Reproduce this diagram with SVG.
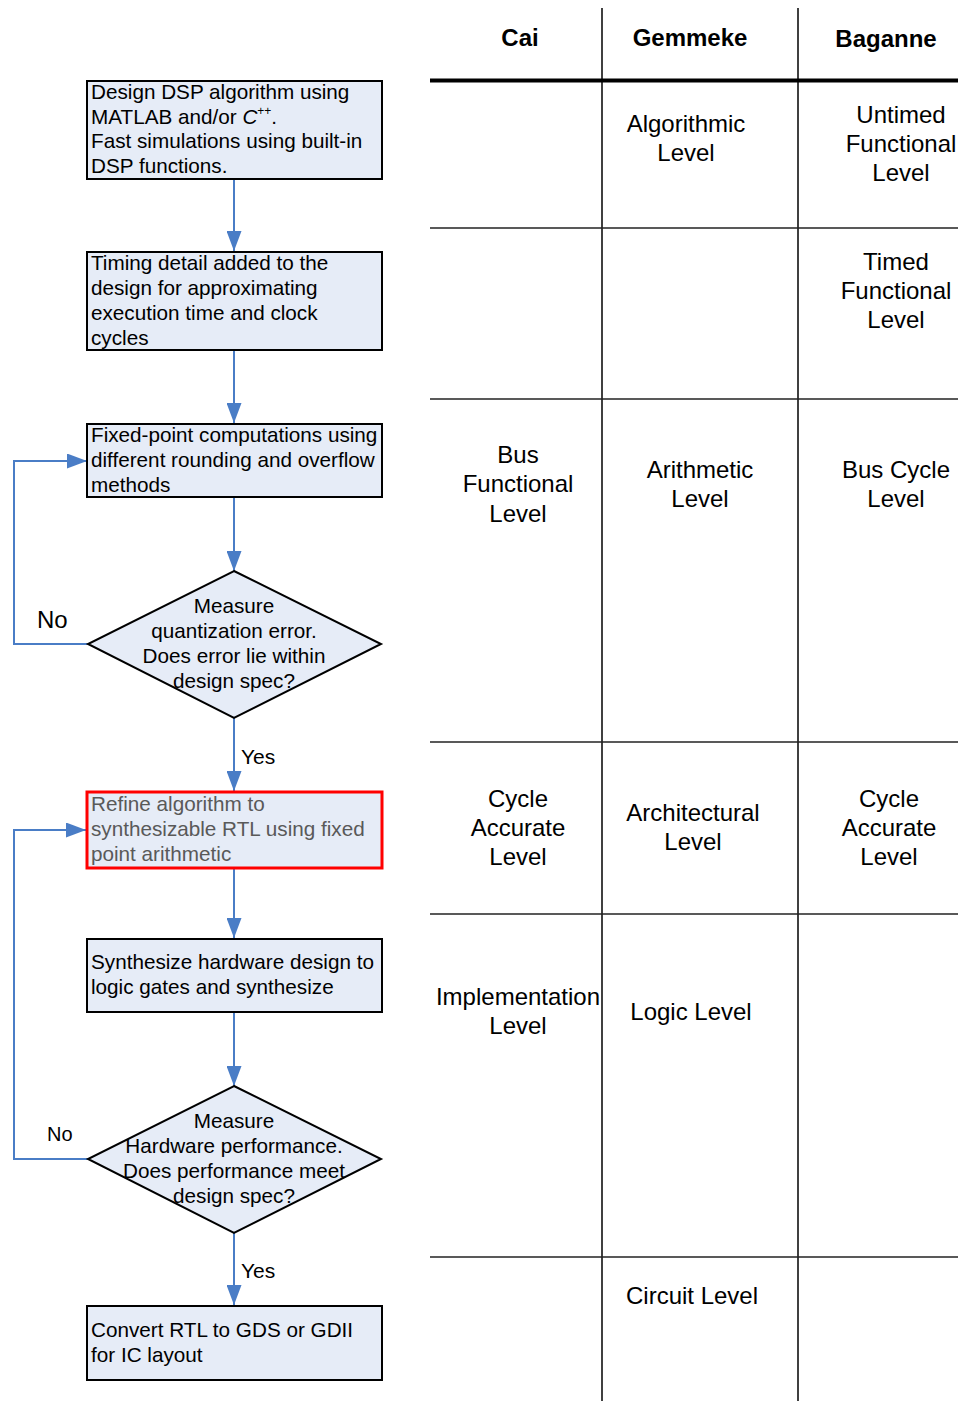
<svg xmlns="http://www.w3.org/2000/svg" width="958" height="1401" viewBox="0 0 958 1401">
  <defs>
    <marker id="arrow" markerUnits="userSpaceOnUse" markerWidth="20" markerHeight="15" refX="20" refY="7.5" viewBox="0 0 20 15" orient="auto">
      <path d="M0,0 L20,7.5 L0,15 Z" fill="#4A7DC6"/>
    </marker>
    <style>
      .box { fill: #E6ECF7; stroke: #000; stroke-width: 2; }
      .hl { fill: #E6ECF7; stroke: #FF0000; stroke-width: 3; }
      .flow { fill: none; stroke: #4A7DC6; stroke-width: 2; marker-end: url(#arrow); }
      .t { font-family: "Liberation Sans", Arial, sans-serif; font-size: 20.7px; fill: #000; }
      .tc { font-family: "Liberation Sans", Arial, sans-serif; font-size: 20.7px; fill: #000; text-anchor: middle; }
      .grey { fill: #595959; }
      .lbl { font-family: "Liberation Sans", Arial, sans-serif; font-size: 21px; fill: #000; }
      .big { font-size: 24px; }
      .small { font-size: 20px; }
      .hd { font-family: "Liberation Sans", Arial, sans-serif; font-size: 24px; font-weight: bold; fill: #000; text-anchor: middle; }
      .cell { font-family: "Liberation Sans", Arial, sans-serif; font-size: 24px; fill: #000; text-anchor: middle; }
      .grid { stroke: #000; stroke-width: 1.5; }
      .row { stroke: #222; stroke-width: 1.5; }
    </style>
  </defs>

  <!-- comparison table -->
  <g id="table">
    <line class="grid" x1="602" y1="8" x2="602" y2="1401"/>
    <line class="grid" x1="798" y1="8" x2="798" y2="1401"/>
    <line x1="430" y1="80.5" x2="958" y2="80.5" stroke="#000" stroke-width="4"/>
    <line class="row" x1="430" y1="228" x2="958" y2="228"/>
    <line class="row" x1="430" y1="399" x2="958" y2="399"/>
    <line class="row" x1="430" y1="742" x2="958" y2="742"/>
    <line class="row" x1="430" y1="914" x2="958" y2="914"/>
    <line class="row" x1="430" y1="1257" x2="958" y2="1257"/>

    <text class="hd" x="520" y="46">Cai</text>
    <text class="hd" x="690" y="46">Gemmeke</text>
    <text class="hd" x="886" y="47">Baganne</text>

    <text class="cell" x="686" y="132">Algorithmic</text>
    <text class="cell" x="686" y="161">Level</text>
    <text class="cell" x="901" y="123">Untimed</text>
    <text class="cell" x="901" y="152">Functional</text>
    <text class="cell" x="901" y="181">Level</text>

    <text class="cell" x="896" y="270">Timed</text>
    <text class="cell" x="896" y="299">Functional</text>
    <text class="cell" x="896" y="328">Level</text>

    <text class="cell" x="518" y="463">Bus</text>
    <text class="cell" x="518" y="492">Functional</text>
    <text class="cell" x="518" y="522">Level</text>
    <text class="cell" x="700" y="478">Arithmetic</text>
    <text class="cell" x="700" y="507">Level</text>
    <text class="cell" x="896" y="478">Bus Cycle</text>
    <text class="cell" x="896" y="507">Level</text>

    <text class="cell" x="518" y="807">Cycle</text>
    <text class="cell" x="518" y="836">Accurate</text>
    <text class="cell" x="518" y="865">Level</text>
    <text class="cell" x="693" y="821">Architectural</text>
    <text class="cell" x="693" y="850">Level</text>
    <text class="cell" x="889" y="807">Cycle</text>
    <text class="cell" x="889" y="836">Accurate</text>
    <text class="cell" x="889" y="865">Level</text>

    <text class="cell" x="518" y="1005">Implementation</text>
    <text class="cell" x="518" y="1034">Level</text>
    <text class="cell" x="691" y="1020">Logic Level</text>

    <text class="cell" x="692" y="1304">Circuit Level</text>
  </g>

  <!-- connectors -->
  <g id="connectors">
    <line class="flow" x1="234" y1="180" x2="234" y2="251"/>
    <line class="flow" x1="234" y1="351" x2="234" y2="423"/>
    <line class="flow" x1="234" y1="498" x2="234" y2="571"/>
    <line class="flow" x1="234" y1="718" x2="234" y2="791"/>
    <line class="flow" x1="234" y1="869" x2="234" y2="938"/>
    <line class="flow" x1="234" y1="1013" x2="234" y2="1086"/>
    <line class="flow" x1="234" y1="1233" x2="234" y2="1305"/>
    <polyline class="flow" points="88,644 14,644 14,461 87,461"/>
    <polyline class="flow" points="88,1159 14,1159 14,830 86,830"/>
    <text class="lbl" x="241" y="764">Yes</text>
    <text class="lbl" x="241" y="1278">Yes</text>
    <text class="lbl big" x="37" y="628">No</text>
    <text class="lbl small" x="47" y="1141">No</text>
  </g>

  <g id="design">
    <rect class="box" x="87" y="81" width="295" height="98"/>
    <text class="t" x="91" y="99">Design DSP algorithm using</text>
    <text class="t" x="91" y="124">MATLAB and/or <tspan font-style="italic">C</tspan><tspan style="font-size:12px" dy="-9">++</tspan><tspan dy="9">.</tspan></text>
    <text class="t" x="91" y="148">Fast simulations using built-in</text>
    <text class="t" x="91" y="173">DSP functions.</text>
  </g>

  <g id="timing">
    <rect class="box" x="87" y="252" width="295" height="98"/>
    <text class="t" x="91" y="270">Timing detail added to the</text>
    <text class="t" x="91" y="295">design for approximating</text>
    <text class="t" x="91" y="320">execution time and clock</text>
    <text class="t" x="91" y="345">cycles</text>
  </g>

  <g id="fixedpoint">
    <rect class="box" x="87" y="424" width="295" height="73"/>
    <text class="t" x="91" y="442">Fixed-point computations using</text>
    <text class="t" x="91" y="467">different rounding and overflow</text>
    <text class="t" x="91" y="492">methods</text>
  </g>

  <g id="quantcheck">
    <polygon class="box" points="234,571 381,644 234,718 88,644"/>
    <text class="tc" x="234" y="613">Measure</text>
    <text class="tc" x="234" y="638">quantization error.</text>
    <text class="tc" x="234" y="663">Does error lie within</text>
    <text class="tc" x="234" y="688">design spec?</text>
  </g>

  <g id="refine">
    <rect class="hl" x="87" y="792" width="295" height="76"/>
    <text class="t grey" x="91" y="811">Refine algorithm to</text>
    <text class="t grey" x="91" y="836">synthesizable RTL using fixed</text>
    <text class="t grey" x="91" y="861">point arithmetic</text>
  </g>

  <g id="synthesize">
    <rect class="box" x="87" y="939" width="295" height="73"/>
    <text class="t" x="91" y="969">Synthesize hardware design to</text>
    <text class="t" x="91" y="994">logic gates and synthesize</text>
  </g>

  <g id="perfcheck">
    <polygon class="box" points="234,1086 381,1159 234,1233 88,1159"/>
    <text class="tc" x="234" y="1128">Measure</text>
    <text class="tc" x="234" y="1153">Hardware performance.</text>
    <text class="tc" x="234" y="1178">Does performance meet</text>
    <text class="tc" x="234" y="1203">design spec?</text>
  </g>

  <g id="convert">
    <rect class="box" x="87" y="1306" width="295" height="74"/>
    <text class="t" x="91" y="1337">Convert RTL to GDS or GDII</text>
    <text class="t" x="91" y="1362">for IC layout</text>
  </g>
</svg>
